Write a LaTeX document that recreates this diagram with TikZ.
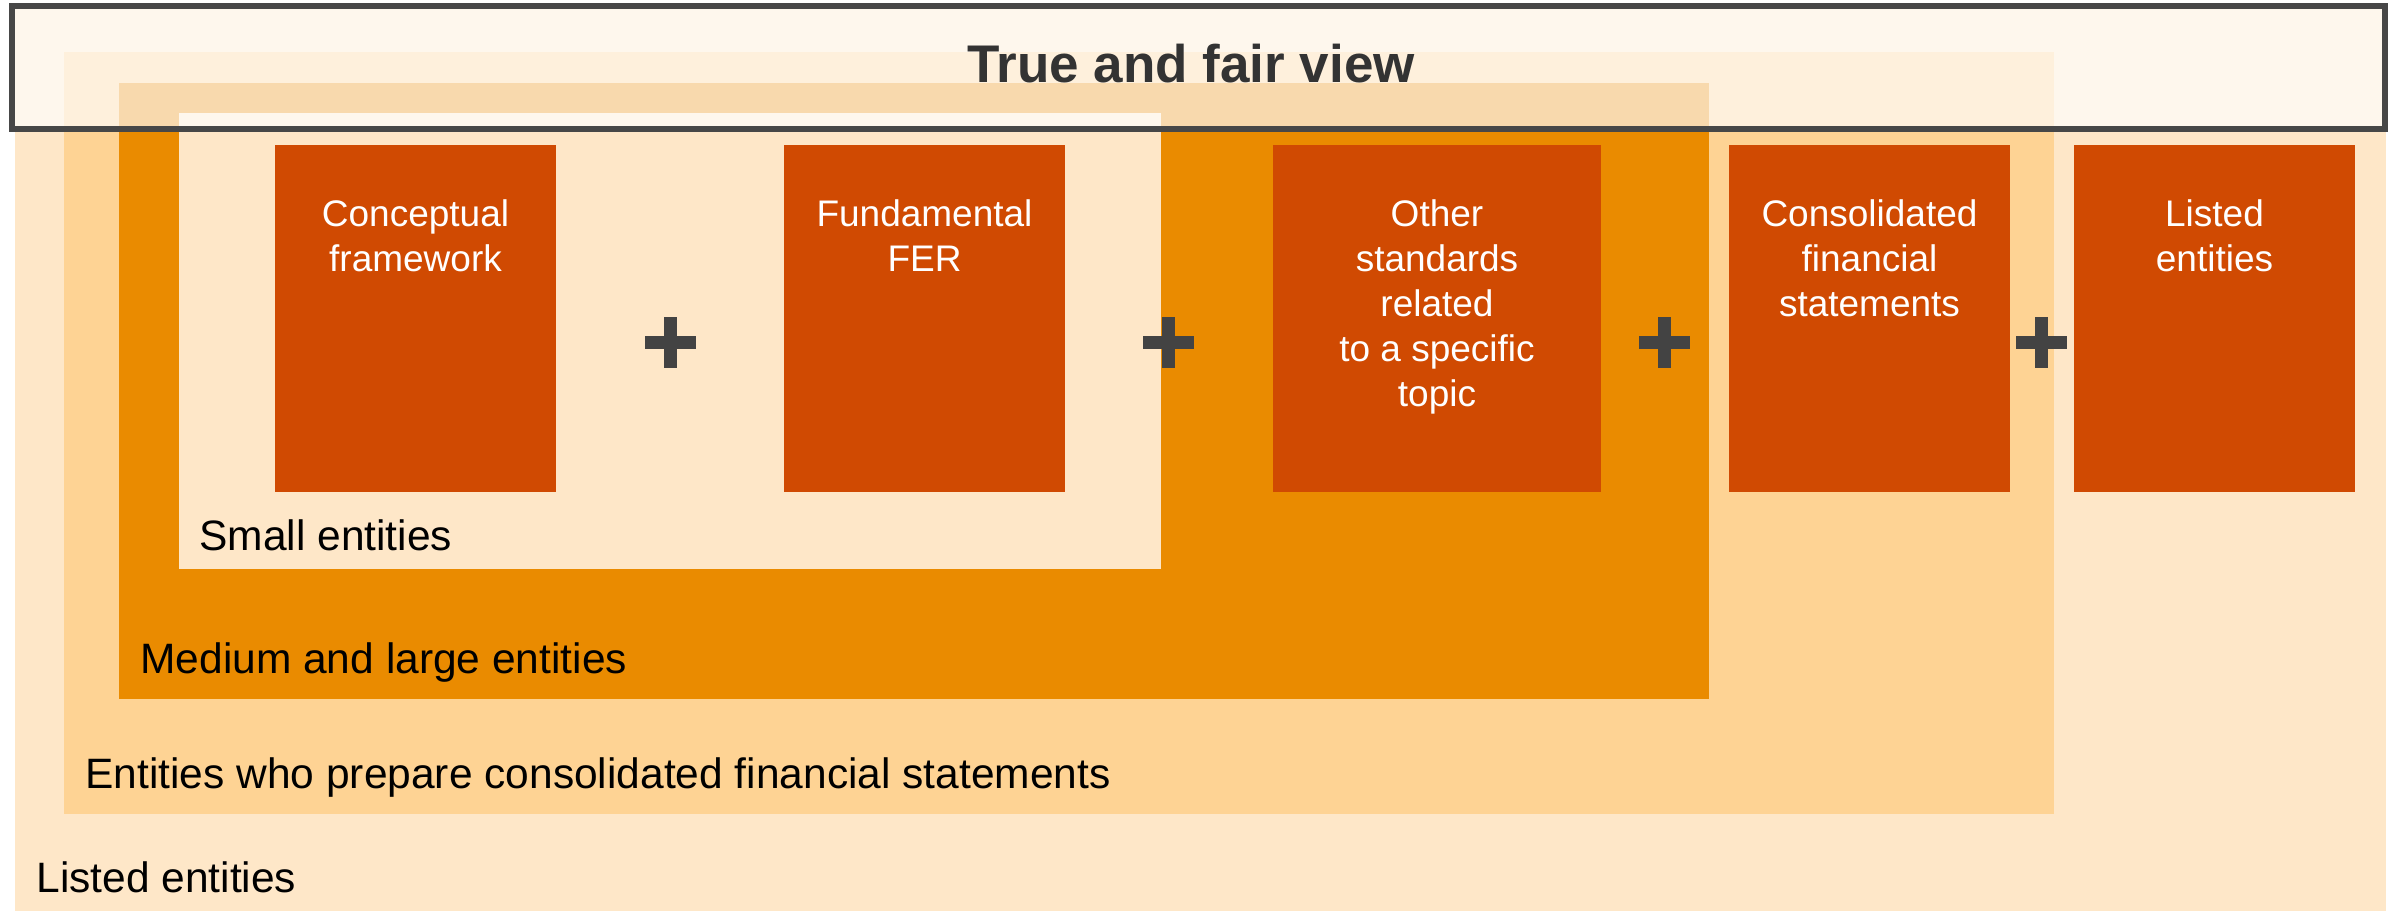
\documentclass[tikz,border=0pt]{standalone}
\usepackage{fontspec}
\setmainfont{Liberation Sans}
\definecolor{listedfill}{HTML}{FEE7C8}
\definecolor{consolfill}{HTML}{FED394}
\definecolor{mediumfill}{HTML}{EA8B00}
\definecolor{boxorange}{HTML}{D04A02}
\definecolor{plusgray}{HTML}{434343}
\definecolor{framegray}{HTML}{474747}
\definecolor{titletext}{HTML}{333333}
\begin{document}
\begin{tikzpicture}[x=0.5pt,y=-0.5pt,
  layer/.style={rectangle, draw=none, inner sep=0pt, outer sep=0pt, anchor=north west},
  stdbox/.style={rectangle, fill=boxorange, inner sep=0pt, outer sep=0pt,
    anchor=north west, minimum height=173.5pt},
  boxtext/.style={anchor=base, text=white, inner sep=0pt,
    font=\fontsize{18.5}{22.5}\selectfont},
  laytext/.style={anchor=base west, inner sep=0pt, text=black,
    font=\fontsize{21.25}{25}\selectfont},
  plussign/.pic={
    \fill[plusgray] (-25.5,-6.5) rectangle (25.5,6.5);
    \fill[plusgray] (-6.5,-25.5) rectangle (6.5,25.5);
  },
]
\useasboundingbox (0,0) rectangle (2400,911);

% nested entity layers
\node[layer, fill=listedfill, minimum width=1185.5pt, minimum height=452.5pt] (listed) at (15,6) {};
\node[layer, fill=consolfill, minimum width=995pt, minimum height=381pt] (consol) at (64,52) {};
\node[layer, fill=mediumfill, minimum width=795pt, minimum height=308pt] (medium) at (119,83) {};
\node[layer, fill=listedfill, minimum width=491pt, minimum height=228pt] (small) at (179,113) {};

% layer captions
\node[laytext] (smallL) at (199,550) {Small entities};
\node[laytext] (mediumL) at (140,673) {Medium and large entities};
\node[laytext] (consolL) at (85,788) {Entities who prepare consolidated financial statements};
\node[laytext] (listedL) at (36,892) {Listed entities};

% standard blocks
\node[stdbox, minimum width=140.5pt] (concept) at (275,145) {};
\node[stdbox, minimum width=140.5pt] (fund) at (784,145) {};
\node[stdbox, minimum width=164pt] (other) at (1273,145) {};
\node[stdbox, minimum width=140.5pt] (consbox) at (1729,145) {};
\node[stdbox, minimum width=140.5pt] (listbox) at (2074,145) {};

\node[boxtext] (conceptT) at ([yshift=-40.5pt]concept.north)
  {\begin{tabular}[t]{@{}c@{}}Conceptual\\framework\end{tabular}};
\node[boxtext] (fundT) at ([yshift=-40.5pt]fund.north)
  {\begin{tabular}[t]{@{}c@{}}Fundamental\\FER\end{tabular}};
\node[boxtext] (otherT) at ([yshift=-40.5pt]other.north)
  {\begin{tabular}[t]{@{}c@{}}Other\\standards\\related\\to a specific\\topic\end{tabular}};
\node[boxtext] (consboxT) at ([yshift=-40.5pt]consbox.north)
  {\begin{tabular}[t]{@{}c@{}}Consolidated\\financial\\statements\end{tabular}};
\node[boxtext] (listboxT) at ([yshift=-40.5pt]listbox.north)
  {\begin{tabular}[t]{@{}c@{}}Listed\\entities\end{tabular}};

% plus signs between the blocks
\pic (plusA) at (670,342) {plussign};
\pic (plusB) at (1168,342) {plussign};
\pic (plusC) at (1664,342) {plussign};
\pic (plusD) at (2041,342) {plussign};

% translucent heading band
\node[rectangle, anchor=north west, inner sep=0pt, outer sep=0pt,
  fill=white, fill opacity=0.68, draw=framegray, line width=3pt,
  minimum width=1186.5pt, minimum height=61.5pt] (truebox) at (12,6) {};
\node[anchor=base, inner sep=0pt, text=titletext,
  font=\fontsize{26.5}{30}\selectfont\bfseries] (trueT) at (1191,82) {True and fair view};
\end{tikzpicture}
\end{document}
